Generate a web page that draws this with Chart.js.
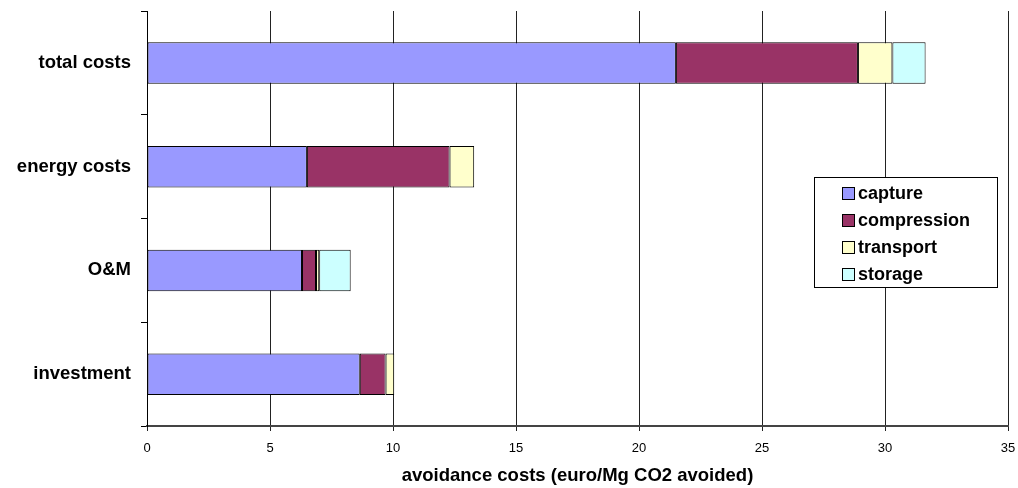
<!DOCTYPE html>
<html>
<head>
<meta charset="utf-8">
<script src="https://cdn.jsdelivr.net/npm/chart.js@4"></script>
<style>
  body { margin: 0; background: #fff; }
  #chart { display: block; }
</style>
</head>
<body>
<canvas id="chart" width="1018" height="488"></canvas>
<script>
const categories = ["total costs", "energy costs", "O&M", "investment"];
const capture = [21.5, 6.5, 6.3, 8.65];
const compression = [7.4, 5.8, 0.57, 1.05];
const transport = [1.4, 1.0, 0.13, 0.35];
const storage = [1.35, null, 1.28, null];
const seriesNames = ["capture", "compression", "transport", "storage"];
const seriesColors = ["#9999FF", "#993366", "#FFFFCC", "#CCFFFF"];

const FONT = "'Liberation Sans', Arial, sans-serif";

// legend box drawn inside the plot, like the original
const boxLegend = {
    id: "boxLegend",
    afterDraw(chart) {
        const ctx = chart.ctx;
        const left = 814, top = 177, w = 183, h = 110;
        ctx.save();
        ctx.fillStyle = "#fff";
        ctx.fillRect(left, top, w, h);
        ctx.strokeStyle = "#000";
        ctx.lineWidth = 1;
        ctx.strokeRect(left + 0.5, top + 0.5, w, h);
        ctx.font = "bold 18px " + FONT;
        ctx.textBaseline = "middle";
        chart.data.datasets.forEach((ds, i) => {
            const cy = 193 + i * 27;
            ctx.fillStyle = ds.backgroundColor;
            ctx.fillRect(842, cy - 6, 12, 12);
            ctx.strokeStyle = "#000";
            ctx.strokeRect(842.5, cy - 5.5, 12, 12);
            ctx.fillStyle = "#000";
            ctx.fillText(ds.label, 858, cy + 1);
        });
        ctx.restore();
    },
};

const values = [capture, compression, transport, storage];

new Chart(document.getElementById("chart"), {
    type: "bar",
    data: {
        labels: categories,
        datasets: seriesNames.map((name, i) => ({
            label: name,
            data: values[i],
            backgroundColor: seriesColors[i],
            borderColor: "#000",
            borderWidth: 1,
            borderSkipped: false,
            categoryPercentage: 1,
            barPercentage: 0.4,
        })),
    },
    options: {
        indexAxis: "y",
        responsive: false,
        animation: false,
        layout: { padding: { left: 0, right: 10, top: 11, bottom: 0 } },
        plugins: {
            legend: { display: false },
            tooltip: { enabled: false },
        },
        scales: {
            x: {
                stacked: true,
                min: 0,
                max: 35,
                ticks: {
                    stepSize: 5,
                    color: "#000",
                    padding: 10,
                    font: { family: FONT, size: 13 },
                },
                grid: {
                    color: "#222",
                    lineWidth: 1,
                    tickLength: 5,
                },
                border: { color: "#444", width: 2 },
                title: {
                    display: true,
                    text: "avoidance costs (euro/Mg CO2 avoided)",
                    color: "#000",
                    font: { family: FONT, size: 18.5, weight: "bold" },
                    padding: { top: 2, bottom: 1 },
                },
                afterFit(scale) {
                    scale.height = 62;
                    scale.paddingLeft = 0;
                    scale.paddingRight = 0;
                },
            },
            y: {
                stacked: true,
                ticks: {
                    color: "#000",
                    padding: 10,
                    font: { family: FONT, size: 18.5, weight: "bold" },
                },
                grid: {
                    offset: true,
                    drawOnChartArea: false,
                    color: "#000",
                    tickLength: 6,
                },
                border: { color: "#000", width: 1 },
                afterFit(scale) {
                    scale.width = 147;
                    scale.paddingTop = 0;
                    scale.paddingBottom = 0;
                },
            },
        },
    },
    plugins: [boxLegend],
});
</script>
</body>
</html>
